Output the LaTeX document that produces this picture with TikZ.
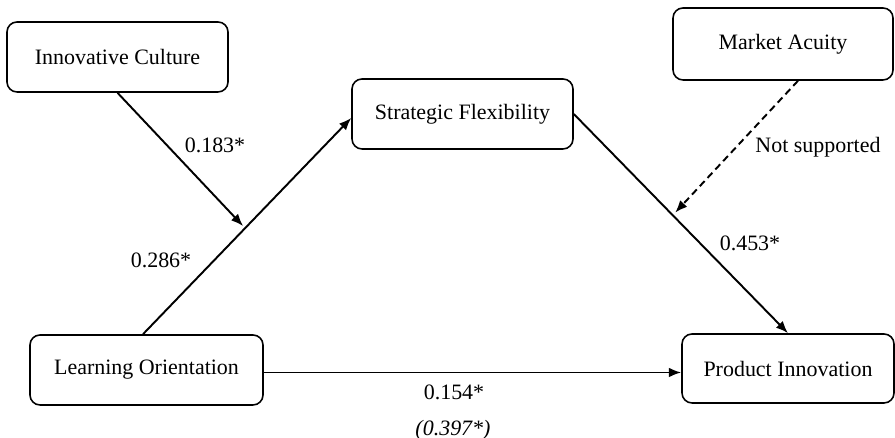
\documentclass[tikz,border=0pt]{standalone}
\usepackage{fontspec}
\setmainfont{Liberation Serif}
\usepackage{tikz}
\usetikzlibrary{arrows.meta}
\tikzset{var/.style={draw, rounded corners=0.2cm, line width=0.9pt, minimum height=1.4cm, inner sep=0pt},
 path/.style={line width=1.1pt, -{Latex[length=7pt,width=5.5pt]}},
 weak/.style={line width=1.1pt, -{Latex[length=7pt,width=5.5pt]}, dash pattern=on 4pt off 2.5pt},
 coef/.style={inner sep=1pt},
 }

\begin{document}
\begin{tikzpicture}[font=\fontsize{12.5}{15}\selectfont]
        \useasboundingbox (0,0) rectangle (17.9,8.76);
        \node[var, minimum width=4.42cm] (ic) at (2.35, 7.62) {Innovative Culture};
        \node[var, minimum width=4.40cm, minimum height=1.44cm] (ma) at (15.66, 7.88) {Market Acuity};
        \node[var, minimum width=4.42cm] (sf) at (9.25, 6.48) {Strategic Flexibility};
        \node[var, minimum width=4.66cm] (lo) at (2.93, 1.36) {Learning Orientation};
        \node[var, minimum width=4.24cm, minimum height=1.38cm] (pi) at (15.76, 1.39) {Product Innovation};
        \draw[path] ([xshift=-0.07cm]lo.north) -- coordinate[pos=0.5] (m1) ([yshift=-0.08cm]sf.west);
        \draw[path] (sf.east) -- coordinate[pos=0.45] (m2) (pi.north);
        \draw[path] ([yshift=-0.05cm]lo.east) -- ([yshift=-0.05cm]lo.east -| pi.west);
        \draw[path] (ic.south) -- ([xshift=-0.08cm]m1);
        \draw[weak] ([xshift=0.3cm]ma.south) -- ([xshift=0.1cm]m2);
        \node[coef] (c1) at (4.3, 5.86) {0.183*};
        \node[coef] (c2) at (3.22, 3.56) {0.286*};
        \node[coef] (c3) at (16.36, 5.82) {Not supported};
        \node[coef] (c4) at (15.0, 3.9) {0.453*};
        \node[coef] (c5) at (9.08, 0.92) {0.154*};
        \node[coef] (c6) at (9.06, 0.16) {\textit{(0.397*)}};
    \end{tikzpicture}
\end{document}
